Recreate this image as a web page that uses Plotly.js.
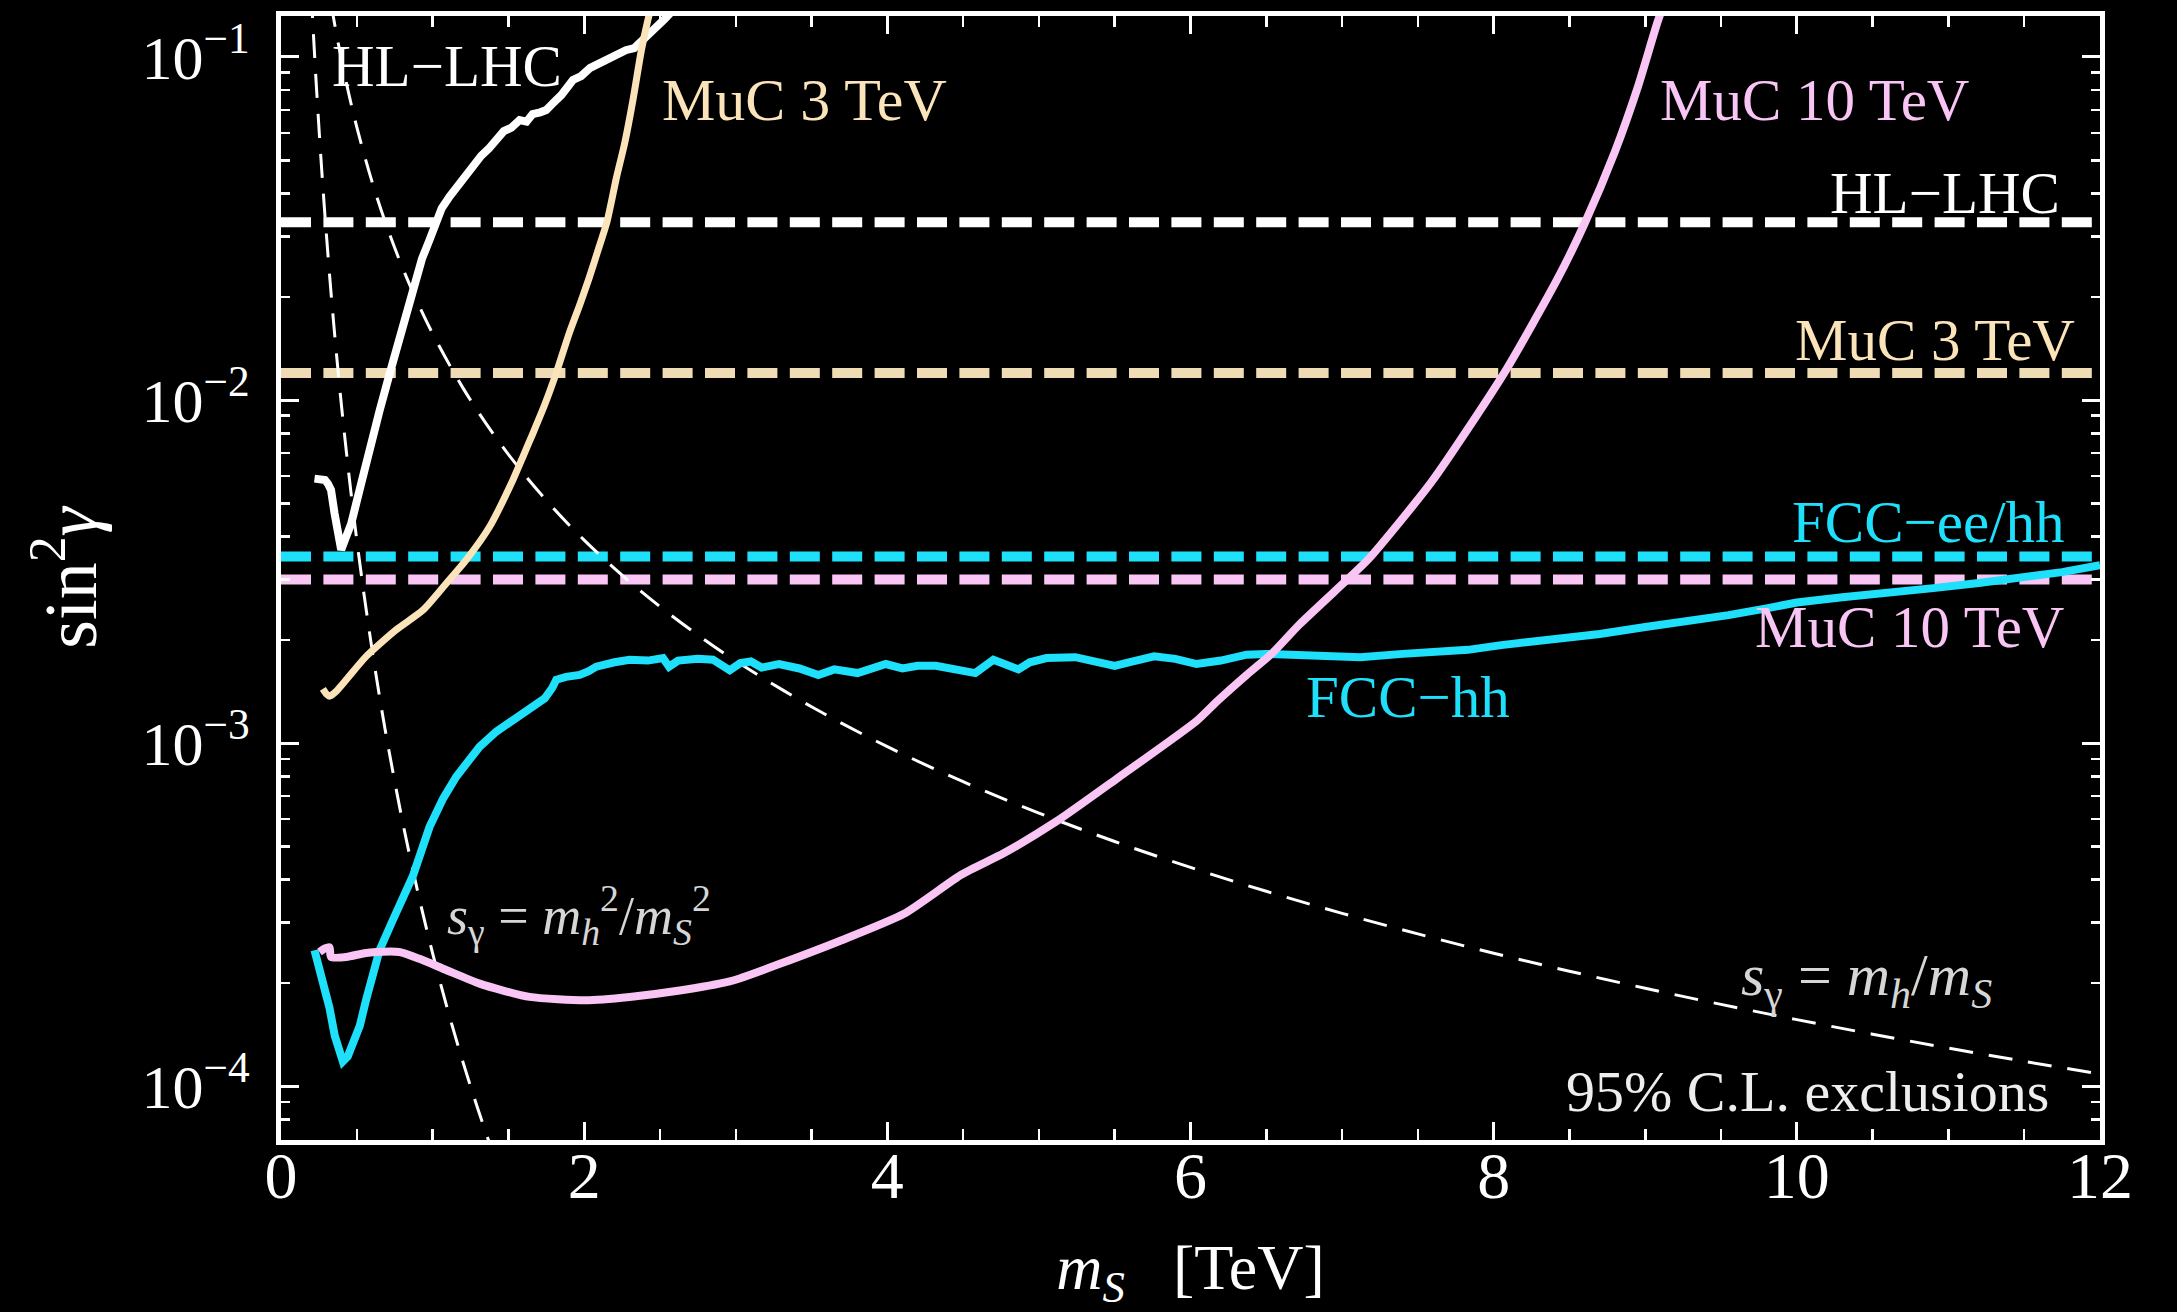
<!DOCTYPE html>
<html>
<head>
<meta charset="utf-8">
<script src="https://cdn.plot.ly/plotly-3.0.1.min.js"></script>
<style>html,body{margin:0;padding:0;background:#000;}#chart{width:2177px;height:1312px;}</style>
</head>
<body>
<div id="chart"></div>
<script>
// ---------- data ----------
const massRange = [0, 12];

const xTickVals = [0, 2, 4, 6, 8, 10, 12];
const xTickText = ['0', '2', '4', '6', '8', '10', '12'];
const yTickVals = [1e-4, 1e-3, 1e-2, 1e-1];
const yTickText = ['10<sup>\u22124</sup>', '10<sup>\u22123</sup>', '10<sup>\u22122</sup>', '10<sup>\u22121</sup>'];
const yMinorVals = [8e-5, 9e-5,
  2e-4, 3e-4, 4e-4, 5e-4, 6e-4, 7e-4, 8e-4, 9e-4,
  2e-3, 3e-3, 4e-3, 5e-3, 6e-3, 7e-3, 8e-3, 9e-3,
  2e-2, 3e-2, 4e-2, 5e-2, 6e-2, 7e-2, 8e-2, 9e-2];

// horizontal (indirect) limits
const limitNames  = ['HL\u2212LHC', 'MuC 3 TeV', 'FCC\u2212ee/hh', 'MuC 10 TeV'];
const limitValues = [0.033, 0.012, 0.0035, 0.0030];

// HL-LHC direct search
const hlX = [0.221,0.26,0.29,0.31,0.33,0.353,0.375,0.397,0.43,0.463,0.529,0.584,0.65,0.716,0.78,0.87,0.93,0.98,1.024,1.06,1.112,1.17,1.22,1.266,1.32,1.37,1.42,1.47,1.52,1.574,1.62,1.66,1.71,1.75,1.80,1.85,1.926,1.98,2.04,2.10,2.18,2.275,2.33,2.39,2.43,2.477,2.53,2.58,2.65];
const hlY = [0.0059,0.0059,0.00585,0.0057,0.00547,0.00468,0.0040,0.00366,0.0040,0.00436,0.00571,0.0073,0.0093,0.0119,0.0152,0.0215,0.0258,0.0293,0.033,0.0362,0.0392,0.0425,0.0448,0.0479,0.0515,0.0540,0.0573,0.0608,0.0622,0.0655,0.0648,0.0682,0.0690,0.0700,0.0738,0.0775,0.0857,0.0880,0.0930,0.0959,0.1000,0.1047,0.1062,0.112,0.117,0.1225,0.129,0.136,0.146];

// MuC 3 TeV direct search
const muc3X = [0.276,0.30,0.32,0.36,0.43,0.562,0.76,0.936,1.09,1.222,1.376,1.53,1.60,1.662,1.74,1.816,1.90,1.97,2.03,2.09,2.15,2.213,2.267,2.322,2.378,2.42,2.46];
const muc3Y = [0.00144,0.00139,0.00137,0.00141,0.00153,0.00179,0.00214,0.00244,0.00292,0.00342,0.00427,0.00585,0.0069,0.0080,0.0097,0.0120,0.0156,0.0189,0.0225,0.0272,0.033,0.0445,0.056,0.075,0.105,0.128,0.15];

// FCC-hh direct search
const fccX = [0.221,0.27,0.32,0.355,0.375,0.408,0.44,0.474,0.52,0.562,0.65,0.738,0.87,0.98,1.07,1.156,1.31,1.42,1.53,1.62,1.706,1.74,1.79,1.816,1.88,1.97,2.03,2.08,2.2,2.3,2.42,2.52,2.56,2.62,2.75,2.85,2.96,3.03,3.1,3.17,3.285,3.42,3.545,3.65,3.804,3.9,3.99,4.1,4.2,4.32,4.45,4.58,4.70,4.79,4.865,4.94,5.05,5.24,5.36,5.50,5.62,5.76,5.9,6.04,6.2,6.37,6.5,6.72,6.9,7.12,7.4,7.6,7.83,8.05,8.42,8.7,9.0,9.3,9.55,9.8,10.0,10.3,10.6,10.9,11.2,11.46,11.75,12.0];
const fccY = [2.49e-4,2.1e-4,1.69e-4,1.4e-4,1.29e-4,1.18e-4,1.22e-4,1.33e-4,1.5e-4,1.79e-4,2.49e-4,3.05e-4,4.1e-4,5.7e-4,6.9e-4,7.98e-4,9.76e-4,1.08e-3,1.17e-3,1.25e-3,1.31e-3,1.35e-3,1.45e-3,1.53e-3,1.56e-3,1.58e-3,1.62e-3,1.67e-3,1.72e-3,1.75e-3,1.74e-3,1.77e-3,1.67e-3,1.74e-3,1.76e-3,1.75e-3,1.63e-3,1.71e-3,1.73e-3,1.66e-3,1.70e-3,1.65e-3,1.58e-3,1.64e-3,1.60e-3,1.64e-3,1.70e-3,1.65e-3,1.68e-3,1.68e-3,1.65e-3,1.60e-3,1.75e-3,1.68e-3,1.64e-3,1.72e-3,1.77e-3,1.78e-3,1.74e-3,1.68e-3,1.73e-3,1.79e-3,1.76e-3,1.70e-3,1.74e-3,1.81e-3,1.82e-3,1.80e-3,1.78e-3,1.78e-3,1.82e-3,1.85e-3,1.87e-3,1.93e-3,2.01e-3,2.08e-3,2.18e-3,2.27e-3,2.36e-3,2.47e-3,2.57e-3,2.66e-3,2.76e-3,2.83e-3,2.93e-3,3.03e-3,3.15e-3,3.30e-3];

// MuC 10 TeV direct search
const muc10X = [0.254,0.29,0.32,0.33,0.43,0.55,0.628,0.78,0.914,1.09,1.31,1.64,2.01,2.30,2.63,2.96,3.025,3.3,3.686,4.11,4.49,4.77,5.12,5.525,6.04,6.18,6.37,6.54,6.72,7.06,7.18,7.59,8.07,8.42,8.60,8.80,8.95,9.08,9.14];
const muc10Y = [2.46e-4,2.52e-4,2.54e-4,2.38e-4,2.38e-4,2.44e-4,2.46e-4,2.46e-4,2.35e-4,2.18e-4,1.99e-4,1.82e-4,1.78e-4,1.82e-4,1.90e-4,2.02e-4,2.06e-4,2.28e-4,2.65e-4,3.18e-4,4.14e-4,4.78e-4,5.93e-4,7.94e-4,1.16e-3,1.33e-3,1.58e-3,1.83e-3,2.22e-3,3.07e-3,3.46e-3,5.77e-3,0.012,0.0225,0.0327,0.053,0.0815,0.126,0.15];

// reference curve s_gamma = m_h/m_S
const sgLinX = [0.33,0.35,0.4,0.45,0.5,0.6,0.7,0.8,0.9,1.0,1.2,1.4,1.6,1.8,2.0,2.25,2.5,2.75,3.0,3.5,4.0,4.5,5.0,5.5,6.0,6.5,7.0,7.5,8.0,8.5,9.0,9.5,10.0,10.5,11.0,11.5,12.0];
const sgLinY = [0.1435,0.1276,0.09766,0.07716,0.0625,0.0434,0.03189,0.02441,0.01929,0.015625,0.01085,0.007972,0.006104,0.004823,0.003906,0.003086,0.0025,0.002066,0.001736,0.001276,0.0009766,0.0007716,0.000625,0.0005165,0.000434,0.0003698,0.0003189,0.0002778,0.0002441,0.0002163,0.0001929,0.0001731,0.00015625,0.0001417,0.0001291,0.0001181,0.0001085];

// reference curve s_gamma = m_h^2/m_S^2
const sgQuadX = [0.2,0.21,0.22,0.23,0.24,0.26,0.28,0.30,0.325,0.35,0.375,0.4,0.45,0.5,0.55,0.6,0.65,0.7,0.8,0.9,1.0,1.1,1.2,1.3,1.4,1.5];
const sgQuadY = [0.1526,0.1255,0.1042,0.08724,0.07358,0.05342,0.03972,0.03014,0.02188,0.01627,0.01235,0.009537,0.005954,0.003906,0.002668,0.001884,0.001367,0.001017,0.000596,0.0003721,0.0002441,0.0001667,0.0001177,0.00008548,0.00006355,0.00004823];

// ---------- styles ----------
const C_WHITE = '#ffffff';
const C_WHEAT = '#fbe4b9';
const C_WHEAT_D = '#efdcb4';
const C_CYAN = '#1ee0fb';
const C_PINK = '#f9c5f4';
const limitColors = [C_WHITE, C_WHEAT_D, C_CYAN, C_PINK];
const SERIF = '"Liberation Serif", "Times New Roman", serif';

const traces = [];
limitValues.forEach((v, i) => {
  traces.push({
    x: massRange, y: [v, v], type: 'scatter', mode: 'lines',
    name: limitNames[i] + ' (indirect)', hoverinfo: 'skip',
    line: {color: limitColors[i], width: 10, dash: '30px,12.4px'}
  });
});
traces.push({x: sgQuadX, y: sgQuadY, type: 'scatter', mode: 'lines', line: {color: C_WHITE, width: 3, dash: '24px,16px', shape: 'spline'}, name: 'quad'});
traces.push({x: sgLinX, y: sgLinY, type: 'scatter', mode: 'lines', line: {color: C_WHITE, width: 3, dash: '24px,16px', shape: 'spline'}, name: 'lin'});
traces.push({x: hlX, y: hlY, type: 'scatter', mode: 'lines', line: {color: C_WHITE, width: 8}, name: 'HL-LHC'});
traces.push({x: muc3X, y: muc3Y, type: 'scatter', mode: 'lines', line: {color: C_WHEAT, width: 7, shape: 'spline', smoothing: 0.6}, name: 'MuC 3 TeV'});
traces.push({x: fccX, y: fccY, type: 'scatter', mode: 'lines', line: {color: C_CYAN, width: 8}, name: 'FCC-hh'});
traces.push({x: muc10X, y: muc10Y, type: 'scatter', mode: 'lines', line: {color: C_PINK, width: 8, shape: 'spline', smoothing: 0.6}, name: 'MuC 10 TeV'});

function ann(text, x, ylog, color, xanchor, size) {
  return {
    text: text, x: x, y: ylog, xref: 'x', yref: 'y', showarrow: false,
    xanchor: xanchor, yanchor: 'middle',
    font: {family: SERIF, size: size, color: color}
  };
}

const annotations = [
  ann('HL\u2212LHC', 1.096, -1.026, C_WHITE, 'center', 59),
  ann('MuC 3 TeV', 3.452, -1.125, C_WHEAT, 'center', 60),
  ann('MuC 10 TeV', 10.116, -1.125, C_PINK, 'center', 59),
  ann('HL\u2212LHC', 11.746, -1.397, C_WHITE, 'right', 59),
  ann('MuC 3 TeV', 11.845, -1.825, C_WHEAT, 'right', 59),
  ann('FCC\u2212ee/hh', 11.782, -2.356, C_CYAN, 'right', 59),
  ann('MuC 10 TeV', 11.776, -2.662, C_PINK, 'right', 59),
  ann('FCC\u2212hh', 7.432, -2.866, C_CYAN, 'center', 59),
  ann('<i>s</i><sub>\u03b3</sub> = <i>m</i><sub><i>h</i></sub><sup>2</sup>/<i>m</i><sub><i>S</i></sub><sup>2</sup>', 1.964, -3.50, '#d6d6d6', 'center', 54),
  ann('<i>s</i><sub>\u03b3</sub> = <i>m</i><sub><i>h</i></sub>/<i>m</i><sub><i>S</i></sub>', 10.46, -3.69, '#d6d6d6', 'center', 60),
  ann('95% C.L. exclusions', 11.677, -4.017, '#eeeeee', 'right', 58)
];

const axisCommon = {
  showline: true, linecolor: C_WHITE, linewidth: 5, mirror: 'allticks',
  ticks: 'inside', ticklen: 18, tickwidth: 3, tickcolor: C_WHITE,
  showgrid: false, zeroline: false
};

const layout = {
  width: 2177, height: 1312,
  paper_bgcolor: '#000', plot_bgcolor: '#000',
  margin: {l: 281, r: 77, t: 16, b: 172},
  showlegend: false,
  xaxis: Object.assign({}, axisCommon, {
    range: [0, 12], tickmode: 'array', tickvals: xTickVals, ticktext: xTickText,
    tickfont: {family: SERIF, size: 66, color: C_WHITE},
    minor: {dtick: 0.5, tick0: 0, ticks: 'inside', ticklen: 11, tickwidth: 2.5, tickcolor: C_WHITE},
    ticklabelstandoff: -26,
    title: {text: '<i>m</i><sub><i>S</i></sub>\u00a0\u00a0\u00a0[TeV]', font: {family: SERIF, size: 64, color: C_WHITE}}
  }),
  yaxis: Object.assign({}, axisCommon, {
    type: 'log', range: [-4.157, -0.8805], tickmode: 'array', tickvals: yTickVals, ticktext: yTickText,
    tickfont: {family: SERIF, size: 62, color: C_WHITE},
    minor: {tickmode: 'array', tickvals: yMinorVals, ticks: 'inside', ticklen: 9, tickwidth: 2.5, tickcolor: C_WHITE},
    ticklabelstandoff: 14,
    automargin: true,
    title: {text: 'sin<sup>2</sup><i>\u03b3</i>', font: {family: SERIF, size: 74, color: C_WHITE}, standoff: 22}
  }),
  annotations: annotations
};

Plotly.newPlot('chart', traces, layout, {displayModeBar: false, staticPlot: true});
</script>
</body>
</html>
